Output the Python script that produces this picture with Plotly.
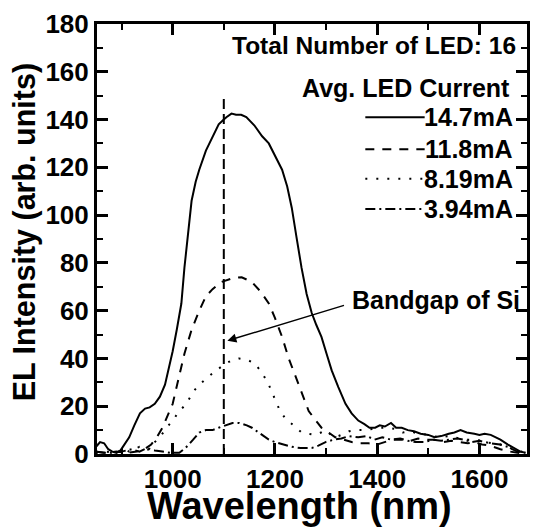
import plotly.graph_objects as go

# ---- data ----
wl_147 = [850, 858, 866, 874, 882, 890, 898, 906, 915, 925, 936, 946, 955, 965, 975, 985, 993, 1000,
          1008, 1017, 1023, 1030, 1037, 1045, 1052, 1065, 1078, 1090, 1100, 1105, 1115, 1124, 1134, 1144,
          1160, 1175, 1188, 1200, 1214, 1224, 1233, 1242, 1252, 1262, 1272, 1281, 1291, 1301, 1311, 1324,
          1338, 1350, 1363, 1375, 1385, 1396, 1405, 1415, 1427, 1437, 1448, 1460, 1472, 1485, 1500, 1512,
          1525, 1540, 1551, 1563, 1575, 1590, 1600, 1610, 1622, 1632, 1641, 1655, 1668, 1680, 1690]
el_147 = [3, 5, 4.5, 2, 1, 0.5, 1.5, 4, 7, 12, 17, 19, 19.5, 21, 24, 29, 36, 43,
          52, 63, 78, 93, 106, 114, 119, 127, 133, 138, 140, 141, 142.5, 142, 142, 141,
          137.5, 133, 130, 125, 119, 112, 103, 91, 78, 67, 59, 54, 49, 42, 35, 28,
          21, 17, 14, 12.5, 11, 11, 12, 11.5, 13, 11, 11, 10, 9.5, 8.5, 8, 7,
          7.5, 8.5, 9, 10, 9, 8.5, 8, 8.5, 8, 7, 6, 4, 2.5, 1, 0.5]

wl_118 = [850, 870, 890, 910, 930, 945, 958, 969, 980, 990, 1000, 1012, 1023, 1037, 1052, 1065, 1078,
          1095, 1117, 1135, 1155, 1172, 1188, 1200, 1214, 1227, 1241, 1254, 1266, 1280, 1291, 1305, 1318,
          1335, 1350, 1365, 1383, 1400, 1415, 1430, 1447, 1465, 1480, 1495, 1512, 1530, 1545, 1560, 1577,
          1590, 1605, 1620, 1641, 1660, 1690]
el_118 = [1, 0.5, 1, 0.5, 1, 2, 4, 7, 11, 16, 21, 32, 42, 52, 60, 66, 69,
          72, 73.6, 74, 72, 68, 63, 57, 49, 40, 32, 24, 18, 14, 11, 9, 7,
          6, 5, 4.5, 4.5, 4, 5, 6, 6, 5.5, 6.5, 6, 6, 5, 5.5, 5, 4.5,
          5, 4, 3.5, 2, 1, 0]

wl_819 = [850, 870, 890, 905, 915, 925, 935, 945, 955, 965, 975, 988, 1000, 1013, 1027, 1040, 1052,
          1068, 1085, 1105, 1118, 1130, 1145, 1160, 1175, 1188, 1200, 1210, 1220, 1230, 1240, 1252, 1265,
          1280, 1290, 1299, 1310, 1318, 1330, 1345, 1357, 1375, 1390, 1405, 1421, 1435, 1450, 1465, 1480,
          1500, 1520, 1540, 1560, 1577, 1595, 1610, 1625, 1641, 1660, 1680, 1690]
el_819 = [0.5, 1, 0.5, 2, 1, 2, 3, 1.5, 2, 5, 7, 11, 14, 18, 21, 26, 29,
          32, 35, 38, 39.5, 40, 39.5, 38, 34, 29, 23, 18, 15, 13, 11, 9, 8.5,
          8, 9, 10, 8, 7, 8, 9.5, 10, 10, 10.5, 11, 11, 10.5, 9, 9.5, 8.5,
          8, 7, 7.5, 6.5, 6, 6, 5, 4.5, 4, 2.5, 1, 0.5]

wl_394 = [850, 865, 880, 900, 920, 935, 950, 965, 980, 995, 1013, 1025, 1040, 1052, 1065, 1078, 1090,
          1105, 1117, 1130, 1145, 1155, 1165, 1178, 1188, 1200, 1215, 1233, 1250, 1272, 1285, 1299, 1315,
          1330, 1345, 1363, 1380, 1395, 1410, 1427, 1445, 1460, 1475, 1493, 1510, 1525, 1540, 1557, 1570,
          1585, 1600, 1621, 1640, 1655, 1674, 1690]
el_394 = [1, 0.5, 0.5, 1, 2, 1, 2.5, 1.5, 1, 0.5, 0.5, 2.5, 6, 9, 10, 10, 11,
          12, 13, 13, 12, 11, 9.5, 7.5, 6, 5, 4, 3, 2.5, 2.5, 3.5, 5, 6,
          6.5, 7.5, 7, 7.5, 6, 7, 6, 6.5, 5.5, 5, 5, 6, 5.5, 6, 6.5, 6,
          5, 5.5, 4.5, 4, 3, 1, 0.5]

bandgap_wl = [1100, 1100]
bandgap_el = [0, 150]

series_labels = ["14.7mA", "11.8mA", "8.19mA", "3.94mA"]
x_range = [852, 1693]
y_range = [0, 180]
x_major = [1000, 1200, 1400, 1600]
y_major = [0, 20, 40, 60, 80, 100, 120, 140, 160, 180]

# ---- styles ----
FONT = "Liberation Sans, Arial, Helvetica, sans-serif"
dashes = ["solid", "9px,8px", "2px,9px", "10px,4px,2px,4px"]


def b(t):
    return "<b>" + str(t) + "</b>"


fig = go.Figure()
for xs, ys, lab, dsh in zip([wl_147, wl_118, wl_819, wl_394],
                            [el_147, el_118, el_819, el_394],
                            series_labels, dashes):
    fig.add_trace(go.Scatter(x=xs, y=ys, mode="lines", name=lab,
                             line=dict(color="black", width=2, dash=dsh),
                             showlegend=False))

fig.add_trace(go.Scatter(x=bandgap_wl, y=bandgap_el, mode="lines",
                         line=dict(color="black", width=2, dash="10px,5px"),
                         showlegend=False))

# legend drawn manually (text right-aligned as in reference)
row_y = [0.783, 0.709, 0.640, 0.570]
for yy, lab, dsh in zip(row_y, series_labels, dashes):
    fig.add_shape(type="line", xref="paper", yref="paper", x0=0.624, x1=0.762, y0=yy, y1=yy,
                  line=dict(color="black", width=2, dash=dsh))
    fig.add_annotation(xref="paper", yref="paper", x=0.972, y=yy, text=b(lab), showarrow=False,
                       xanchor="right", yanchor="middle",
                       font=dict(family=FONT, size=25, color="black"))

fig.add_annotation(xref="paper", yref="paper", x=0.978, y=0.949, text=b("Total Number of LED: 16"),
                   showarrow=False, xanchor="right", yanchor="middle",
                   font=dict(family=FONT, size=24.5, color="black"))
fig.add_annotation(xref="paper", yref="paper", x=0.966, y=0.852, text=b("Avg. LED Current"),
                   showarrow=False, xanchor="right", yanchor="middle",
                   font=dict(family=FONT, size=25, color="black"))

# Bandgap annotation
fig.add_annotation(x=1107, y=47.4, ax=1338, ay=62.4, xref="x", yref="y", axref="x", ayref="y",
                   text="", showarrow=True, arrowhead=2, arrowsize=1.2, arrowwidth=1.5,
                   arrowcolor="black", standoff=0, startstandoff=0)
fig.add_annotation(x=1347, y=64.5, xref="x", yref="y", text=b("Bandgap of Si"), showarrow=False,
                   xanchor="left", yanchor="middle",
                   font=dict(family=FONT, size=25, color="black"))

# axis titles as annotations for precise placement
fig.add_annotation(xref="paper", yref="paper", x=0.471, y=-0.122, text=b("Wavelength (nm)"),
                   showarrow=False, xanchor="center", yanchor="middle",
                   font=dict(family=FONT, size=38, color="black"))
fig.add_annotation(xref="paper", yref="paper", x=-0.168, y=0.515, text=b("EL Intensity (arb. units)"),
                   showarrow=False, xanchor="center", yanchor="middle", textangle=-90,
                   font=dict(family=FONT, size=30.5, color="black"))

fig.update_layout(
    width=539, height=529,
    margin=dict(l=97, r=9, t=21, b=75),
    plot_bgcolor="white", paper_bgcolor="white",
    font=dict(family=FONT, color="black"),
    xaxis=dict(
        range=x_range, tickmode="array", tickvals=x_major, ticktext=[b(v) for v in x_major],
        showline=True, linewidth=3, linecolor="black", mirror="allticks",
        ticks="inside", ticklen=11, tickwidth=3, tickcolor="black",
        minor=dict(ticks="inside", ticklen=6, tickwidth=2, dtick=100, tick0=900, tickcolor="black"),
        showgrid=False, zeroline=False,
        tickfont=dict(family=FONT, size=26, color="black"),
    ),
    yaxis=dict(
        range=y_range, tickmode="array", tickvals=y_major, ticktext=[b(v) for v in y_major],
        showline=True, linewidth=3, linecolor="black", mirror="allticks",
        ticks="inside", ticklen=11, tickwidth=3, tickcolor="black",
        minor=dict(ticks="inside", ticklen=6, tickwidth=2, dtick=10, tick0=0, tickcolor="black"),
        showgrid=False, zeroline=False,
        tickfont=dict(family=FONT, size=26, color="black"),
    ),
)

fig.write_html("out.html")
